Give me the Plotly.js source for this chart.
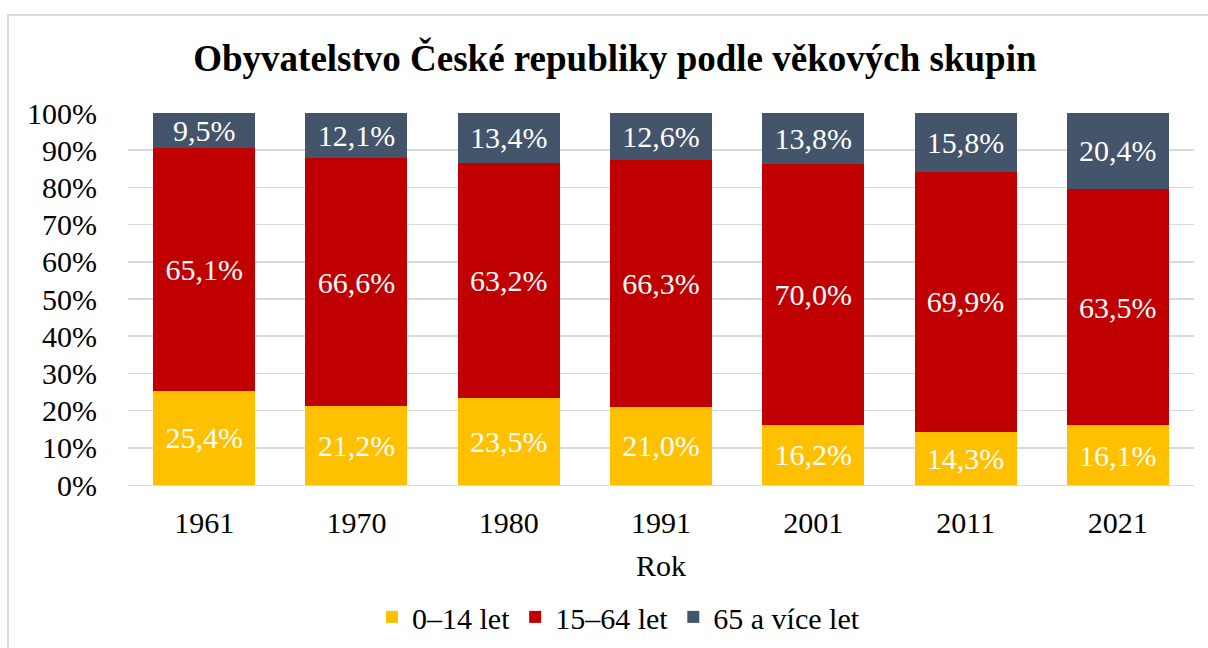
<!DOCTYPE html>
<html>
<head>
<meta charset="utf-8">
<script src="https://cdn.plot.ly/plotly-3.0.1.min.js"></script>
<style>
html,body{margin:0;padding:0;background:#fff;}
#chart{width:1208px;height:648px;}
</style>
</head>
<body>
<div id="chart"></div>
<script>
const years = ['1961', '1970', '1980', '1991', '2001', '2011', '2021'];
const seriesNames = ['0–14 let', '15–64 let', '65 a více let'];
const young = [25.4, 21.2, 23.5, 21.0, 16.2, 14.3, 16.1];
const working = [65.1, 66.6, 63.2, 66.3, 70.0, 69.9, 63.5];
const old = [9.5, 12.1, 13.4, 12.6, 13.8, 15.8, 20.4];
const colors = ['#ffc000', '#c00000', '#44546a'];
const yTickVals = [0, 10, 20, 30, 40, 50, 60, 70, 80, 90, 100];
const yTickText = ['0%', '10%', '20%', '30%', '40%', '50%', '60%', '70%', '80%', '90%', '100%'];

const FONT = 'Liberation Serif';
const fmt = v => v.toFixed(1).replace('.', ',') + '%';

const traces = [young, working, old].map((vals, i) => ({
  type: 'bar',
  name: seriesNames[i],
  x: years,
  y: vals,
  text: vals.map(fmt),
  textposition: 'inside',
  insidetextanchor: 'middle',
  constraintext: 'none',
  textangle: 0,
  textfont: {family: FONT, size: 30, color: '#ffffff'},
  hoverinfo: 'skip',
  marker: {color: colors[i], line: {width: 0}}
}));

const layout = {
  width: 1208,
  height: 648,
  barmode: 'stack',
  barnorm: 'percent',
  bargap: 0.33,
  paper_bgcolor: '#ffffff',
  plot_bgcolor: '#ffffff',
  margin: {l: 128, r: 14, t: 113, b: 163},
  font: {family: FONT, size: 30, color: '#000000'},
  title: {
    text: '<b>Obyvatelstvo České republiky podle věkových skupin</b>',
    font: {family: FONT, size: 37, color: '#000000'},
    xref: 'container', x: 0.509, xanchor: 'center',
    yref: 'container', y: 0.91, yanchor: 'middle'
  },
  xaxis: {
    type: 'category',
    showgrid: false,
    showline: true,
    linecolor: '#d9d9d9',
    linewidth: 1,
    ticks: '',
    tickfont: {family: FONT, size: 30, color: '#000'},
    ticklabelstandoff: 11,
    title: {text: 'Rok', font: {family: FONT, size: 30, color: '#000'}, standoff: 16}
  },
  yaxis: {
    range: [0, 100],
    tickvals: yTickVals,
    ticktext: yTickText,
    showgrid: true,
    gridcolor: '#d9d9d9',
    gridwidth: 1.5,
    zeroline: false,
    showline: false,
    ticks: '',
    ticklabelstandoff: 30,
    tickfont: {family: FONT, size: 30, color: '#000'}
  },
  legend: {
    orientation: 'h',
    xref: 'container', x: 0.512, xanchor: 'center',
    yref: 'container', y: 0.048, yanchor: 'middle',
    font: {family: FONT, size: 30, color: '#000'},
    itemwidth: 30,
    traceorder: 'normal'
  },
  shapes: [{
    type: 'rect',
    xref: 'paper', yref: 'paper',
    x0: (8 - 128) / 1066, x1: 1.1,
    y0: -0.6, y1: (485 - 15) / 372,
    line: {color: '#d9d9d9', width: 2},
    fillcolor: 'rgba(0,0,0,0)',
    layer: 'below'
  }]
};

Plotly.newPlot('chart', traces, layout, {displayModeBar: false, staticPlot: true});
</script>
</body>
</html>
